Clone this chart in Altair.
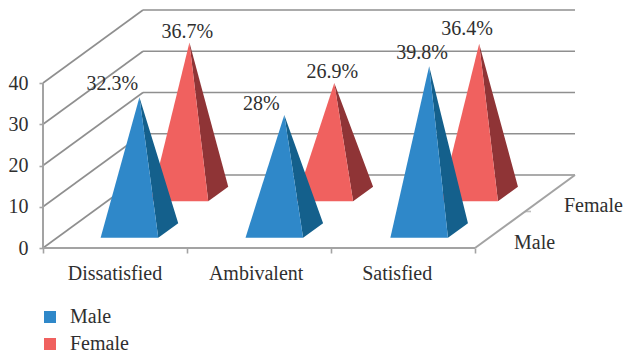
import altair as alt
import pandas as pd

# Survey results by satisfaction level and sex (percent)
categories = ["Dissatisfied", "Ambivalent", "Satisfied"]
series = ["Male", "Female"]
male = [32.3, 28.0, 39.8]
female = [36.7, 26.9, 36.4]
value_ticks = [0, 10, 20, 30, 40]

# Oblique projection: one full depth step shifts this far right and up
SKEW_X = 100 / 144
SKEW_Y = 73 / 4.125
CAT_PX = 144
VAL_PX = 4.125
PLOT_LEFT = 43
PLOT_BOTTOM = 248

GRID = "#8f8f8f"
AXIS = "#a3a3a3"
INK = "#2f2f2f"
FONT = "Liberation Serif"
FONT_SIZE = 20
FRONT = {"Male": "#2f88c9", "Female": "#f0615f"}
SIDE = {"Male": "#14608c", "Female": "#8f3436"}


def project(cat, value, depth):
    return cat + depth * SKEW_X, value + depth * SKEW_Y


def segment(key, a, b):
    return [
        {"seg": key, "px": project(*a)[0], "py": project(*a)[1]},
        {"seg": key, "px": project(*b)[0], "py": project(*b)[1]},
    ]


def triangle_rows(key, name, pts):
    """Turn a triangle into x/y/y2 rows that an area mark can fill."""
    pts = sorted(pts)
    (x0, y0), (x1, y1), (x2, y2) = pts
    chord = y0 + (y2 - y0) * (x1 - x0) / (x2 - x0) if x2 != x0 else y0
    return [
        {"tri": key, "series": name, "px": x0, "top": y0, "bot": y0},
        {"tri": key, "series": name, "px": x1, "top": max(y1, chord), "bot": min(y1, chord)},
        {"tri": key, "series": name, "px": x2, "top": y2, "bot": y2},
    ]


x_scale = alt.Scale(domain=[0, (624 - PLOT_LEFT) / CAT_PX], range=[0, 624 - PLOT_LEFT], nice=False, zero=False)
y_scale = alt.Scale(domain=[0, PLOT_BOTTOM / VAL_PX], range=[PLOT_BOTTOM, 0], nice=False, zero=False)

# Back wall, side wall and floor edges
grid_rows = []
for v in value_ticks:
    grid_rows += segment(f"back{v}", (0, v, 1), (3, v, 1))
    grid_rows += segment(f"side{v}", (0, v, 0), (0, v, 1))
grid = alt.Chart(pd.DataFrame(grid_rows)).mark_line(color=GRID, strokeWidth=1.6).encode(
    x=alt.X("px:Q", scale=x_scale, axis=alt.Axis(
        values=[0, 1, 2, 3], labels=False, title=None, domain=False, grid=False,
        ticks=True, tickSize=5, tickColor=AXIS, tickWidth=1.6)),
    y=alt.Y("py:Q", scale=y_scale, axis=alt.Axis(
        values=value_ticks, title=None, domain=False, grid=False, ticks=True, tickSize=4,
        tickColor=AXIS, tickWidth=1.6, labelFont=FONT, labelFontSize=FONT_SIZE,
        labelColor=INK, labelPadding=11)),
    detail="seg:N",
)

edge_rows = (
    segment("front", (0, 0, 0), (3, 0, 0))
    + segment("right", (3, 0, 0), (3, 0, 1))
    + segment("wall", (0, 0, 0), (0, 40, 0))
)
edges = alt.Chart(pd.DataFrame(edge_rows)).mark_line(color=AXIS, strokeWidth=2).encode(
    x=alt.X("px:Q", scale=x_scale), y=alt.Y("py:Q", scale=y_scale), detail="seg:N"
)

# Tick where the two depth slots meet on the floor's right edge
mid = project(3, 0, 0.5)
depth_tick = alt.Chart(pd.DataFrame([{"px": mid[0], "py": mid[1]}])).mark_tick(
    color=AXIS, thickness=1.6, size=6, orient="horizontal", xOffset=3
).encode(x=alt.X("px:Q", scale=x_scale), y=alt.Y("py:Q", scale=y_scale))

# Pyramids: back row first so the front row overlaps it
HALF_W = 0.2
HALF_D = 0.1
DEPTH_CENTER = {"Male": 0.24, "Female": 0.74}
CAT_SPREAD = 1.006

front_rows, side_rows = [], []
for name, values in (("Female", female), ("Male", male)):
    for i, val in enumerate(values):
        c = 0.5 + i * CAT_SPREAD + 0.003
        d = DEPTH_CENTER[name]
        fl = project(c - HALF_W, 0, d - HALF_D)
        fr = project(c + HALF_W, 0, d - HALF_D)
        br = project(c + HALF_W, 0, d + HALF_D)
        apex = project(c, val, d)
        front_rows += triangle_rows(f"{name}{i}", name, [fl, fr, apex])
        side_rows += triangle_rows(f"{name}{i}", name, [fr, br, apex])

layers = [grid, edges, depth_tick]
front_df = pd.DataFrame(front_rows)
side_df = pd.DataFrame(side_rows)
for name in ("Female", "Male"):
    layers.append(
        alt.Chart(side_df[side_df.series == name]).mark_area(color=SIDE[name], interpolate="linear").encode(
            x=alt.X("px:Q", scale=x_scale), y=alt.Y("top:Q", scale=y_scale), y2="bot:Q", detail="tri:N"
        )
    )
    layers.append(
        alt.Chart(front_df[front_df.series == name]).mark_area(interpolate="linear").encode(
            x=alt.X("px:Q", scale=x_scale),
            y=alt.Y("top:Q", scale=y_scale),
            y2="bot:Q",
            detail="tri:N",
            color=alt.Color(
                "series:N",
                scale=alt.Scale(domain=series, range=[FRONT["Male"], FRONT["Female"]]),
                legend=alt.Legend(
                    orient="none", legendX=-3, legendY=307, title=None, symbolType="square",
                    symbolSize=144, symbolStrokeWidth=0, labelFont=FONT, labelFontSize=FONT_SIZE,
                    labelColor=INK, labelOffset=10, rowPadding=7, padding=0,
                ),
            ),
        )
    )

# Value labels, each nudged off its apex by hand to clear the neighbouring marks
nudges = {
    ("Male", 0): (-27, -13), ("Male", 1): (-23, -11), ("Male", 2): (-7, -13),
    ("Female", 0): (-2, -11), ("Female", 1): (-2, -11), ("Female", 2): (-12, -15),
}
for name, values in (("Female", female), ("Male", male)):
    for i, val in enumerate(values):
        c = 0.5 + i * CAT_SPREAD + 0.003
        ax, ay = project(c, val, DEPTH_CENTER[name])
        dx, dy = nudges[(name, i)]
        label = f"{val:g}%"
        layers.append(
            alt.Chart(pd.DataFrame([{"px": ax, "py": ay, "label": label}])).mark_text(
                font=FONT, fontSize=FONT_SIZE, color=INK, dx=dx, dy=dy, baseline="middle"
            ).encode(x=alt.X("px:Q", scale=x_scale), y=alt.Y("py:Q", scale=y_scale), text="label:N")
        )

# Category names under the floor
cat_df = pd.DataFrame({"px": [i + 0.5 - 0.02 * i for i in range(3)], "py": [0, 0, 0], "label": categories})
layers.append(
    alt.Chart(cat_df).mark_text(font=FONT, fontSize=FONT_SIZE, color=INK, dy=26, baseline="middle").encode(
        x=alt.X("px:Q", scale=x_scale), y=alt.Y("py:Q", scale=y_scale), text="label:N"
    )
)

# Depth names beside the floor's right edge
depth_rows = []
for name, d in (("Male", 0.25), ("Female", 0.75)):
    px, py = project(3, 0, d)
    depth_rows.append({"px": px, "py": py, "label": name})
layers.append(
    alt.Chart(pd.DataFrame(depth_rows)).mark_text(
        font=FONT, fontSize=FONT_SIZE, color=INK, align="left", dx=14, dy=13, baseline="middle"
    ).encode(x=alt.X("px:Q", scale=x_scale), y=alt.Y("py:Q", scale=y_scale), text="label:N")
)

chart = alt.layer(*layers).properties(
    width=624 - PLOT_LEFT,
    height=PLOT_BOTTOM,
    padding={"left": PLOT_LEFT, "top": 0, "right": 0, "bottom": 355 - PLOT_BOTTOM},
    autosize=alt.AutoSizeParams(type="none"),
    background="white",
).configure_view(stroke=None)

chart.save("out.html", embed_options={"renderer": "svg", "actions": False})
